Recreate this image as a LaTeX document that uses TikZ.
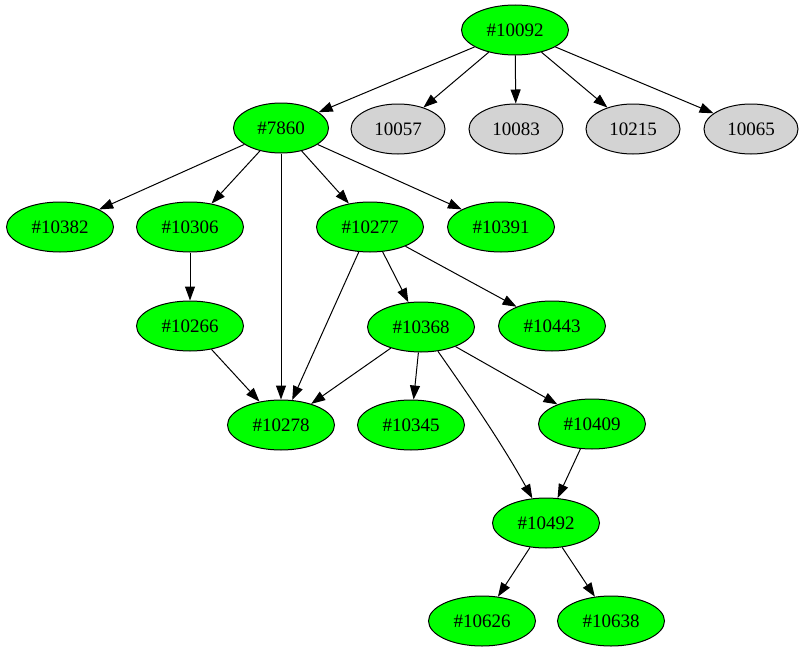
\documentclass[tikz,border=0pt]{standalone}
\usepackage{fontspec}
\setmainfont{Liberation Serif}
\usetikzlibrary{arrows.meta,shapes.geometric}
\definecolor{gvgreen}{HTML}{00FF00}
\definecolor{gvgray}{HTML}{D3D3D3}
\begin{document}
\begin{tikzpicture}[x=1pt,y=-1pt,
  nd/.style={ellipse, draw=black, line width=1pt, inner sep=0pt,
    minimum width=107pt, minimum height=50pt,
    font=\fontsize{19}{23}\selectfont},
  gn/.style={nd, fill=gvgreen},
  gy/.style={nd, fill=gvgray, minimum width=94pt},
  edge/.style={draw=black, line width=1pt, -{Triangle[length=14pt,width=10pt]}}]
\useasboundingbox (0,0) rectangle (801,653);
\node[gn] (n10092) at (515,30) {\#10092};
\node[gn, minimum width=95pt] (n7860) at (281,128) {\#7860};
\node[gy] (n10057) at (398,129) {10057};
\node[gy] (n10083) at (516,129) {10083};
\node[gy] (n10215) at (633,129) {10215};
\node[gy] (n10065) at (751,129) {10065};
\node[gn] (n10382) at (60,227) {\#10382};
\node[gn] (n10306) at (190,227) {\#10306};
\node[gn] (n10277) at (370,227) {\#10277};
\node[gn] (n10391) at (501,227) {\#10391};
\node[gn] (n10266) at (190,326) {\#10266};
\node[gn] (n10368) at (421,327) {\#10368};
\node[gn] (n10443) at (552,326) {\#10443};
\node[gn] (n10278) at (281,425) {\#10278};
\node[gn] (n10345) at (411,425) {\#10345};
\node[gn] (n10409) at (592,424) {\#10409};
\node[gn] (n10492) at (546,523) {\#10492};
\node[gn] (n10626) at (482,621) {\#10626};
\node[gn] (n10638) at (611,621) {\#10638};
\draw[edge] (n10092) -- (n7860);
\draw[edge] (n10092) -- (n10057);
\draw[edge] (n10092) -- (n10083);
\draw[edge] (n10092) -- (n10215);
\draw[edge] (n10092) -- (n10065);
\draw[edge] (n7860) -- (n10382);
\draw[edge] (n7860) -- (n10306);
\draw[edge] (n7860) -- (n10278);
\draw[edge] (n7860) -- (n10277);
\draw[edge] (n7860) -- (n10391);
\draw[edge] (n10306) -- (n10266);
\draw[edge] (n10277) -- (n10278);
\draw[edge] (n10277) -- (n10368);
\draw[edge] (n10277) -- (n10443);
\draw[edge] (n10266) -- (n10278);
\draw[edge] (n10368) -- (n10278);
\draw[edge] (n10368) -- (n10345);
\draw[edge] (n10368) -- (n10409);
\draw[edge] (n10368) .. controls (465,390) and (500,440) .. (n10492);
\draw[edge] (n10409) -- (n10492);
\draw[edge] (n10492) -- (n10626);
\draw[edge] (n10492) -- (n10638);
\end{tikzpicture}
\end{document}
